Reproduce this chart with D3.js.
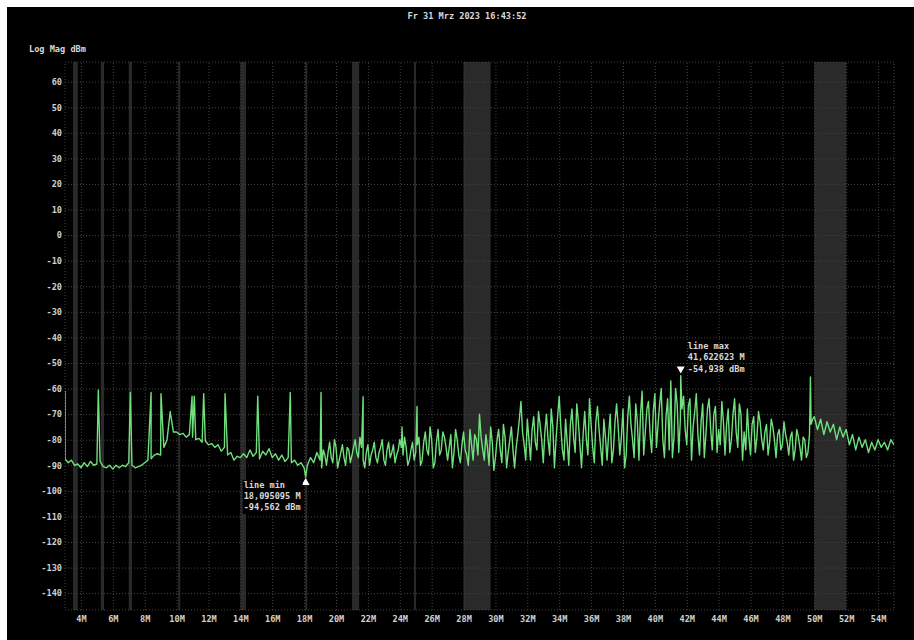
<!DOCTYPE html>
<html><head><meta charset="utf-8">
<script src="https://cdn.jsdelivr.net/npm/d3@7"></script>
<style>
html,body{margin:0;padding:0;background:#fff;}
svg{display:block;}
text{font-family:"DejaVu Sans Mono","Liberation Mono",monospace;}
</style></head>
<body><svg id="c" width="914" height="640"></svg>
<script>
// ---- data ----
const title = "Fr 31 Mrz 2023 16:43:52";
const yAxisTitle = "Log Mag dBm";
const startMHz = 3.0;
const stepMHz = 0.2;
// trace values in dBm, one per 0.2 MHz from 3.0 to 55.0 MHz (rows of 2 MHz)
const traceValues = [
  -87.5, -89, -88, -90, -89.5, -91, -89, -90.5, -88.5, -90,
  -89.5, -88.5, -90.5, -91, -90, -91.5, -90, -91, -90, -90.5,
  -89, -90, -91, -90.5, -90, -89, -88, -87.5, -86, -85.5,
  -86, -83, -80, -69, -77, -77, -78, -77.5, -79, -78,
  -79, -80, -79.5, -81, -80.5, -82, -81.5, -83, -82, -84.5,
  -83, -86, -85, -88, -86.5, -87, -85.5, -87, -84, -86.5,
  -85, -87.5, -84.5, -86, -83.5, -87, -85.5, -88, -86, -88.5,
  -87, -89, -88, -90, -89, -91, -90, -87, -89, -85,
  -88, -84, -90, -81, -89, -83, -88, -82, -90, -84,
  -86, -80, -87, -83, -91, -82, -86, -81, -89, -83,
  -88, -84, -87, -82, -86, -80, -86, -83, -88, -81,
  -85, -79, -88, -77, -86, -80, -89, -76, -84, -79,
  -88, -78, -85, -80, -89, -77, -86, -76, -88, -80,
  -70, -84, -78, -90, -81, -87, -76, -89, -79, -85,
  -75, -91, -78, -65, -82, -72, -88, -71, -84, -74,
  -89, -70, -86, -75, -80, -63, -84, -72, -90, -68,
  -85, -73, -91, -69, -86, -74, -89, -67, -83, -72,
  -88, -70, -84, -66, -86, -68, -86, -63, -80, -66,
  -88, -61, -77, -65, -85, -62, -74, -60, -87, -64,
  -57, -79, -66, -72, -63, -82, -64, -75, -62, -86,
  -66, -78, -64, -84, -67, -76, -65, -86, -68, -80,
  -64, -83, -70, -77, -68, -86, -71, -79, -73, -84,
  -74, -81, -75, -87, -76, -82, -78, -86, -77, -84,
  -79, -88, -80, -85, -74, -71, -76, -72, -78, -73,
  -77, -74, -80, -75, -79, -76, -82, -78, -84, -79,
  -83, -80, -85, -81, -84, -80, -83, -81, -84, -80,
  -82
];
// extra in-between samples of the noisy part, one per 0.2 MHz from 19.1 to 49.9 MHz
const midStartMHz = 19.1;
const midValues = [
  -91, -86, -85, -87, -80, -91, -85, -87, -83, -89,
  -83, -85, -79, -88, -85, -90, -84, -87, -85, -80,
  -90, -81, -85, -89, -84, -83, -79, -90, -84, -88,
  -82, -90, -81, -84, -75, -91, -81, -86, -77, -83,
  -83, -91, -76, -86, -82, -84, -90, -82, -78, -86,
  -79, -88, -83, -75, -92, -80, -84, -74, -91, -80,
  -84, -83, -72, -77, -88, -80, -76, -81, -69, -80,
  -77, -80, -68, -91, -71, -75, -88, -81, -74, -79,
  -66, -82, -78, -80, -64, -83, -73, -76, -90, -79,
  -78, -89, -73, -75, -79, -91, -71, -74, -87, -73,
  -70, -86, -68, -78, -69, -83, -66, -80, -71, -84,
  -87, -60, -85, -68, -76, -67, -88, -69, -78, -73,
  -87, -68, -76, -70, -85, -82, -73, -74, -85, -70,
  -77, -66, -88, -84, -79, -74, -85, -69, -80, -77,
  -86, -72, -80, -78, -84, -73, -81, -79, -88, -76,
  -83, -79, -87, -78, -72
];
// narrow carrier spikes (MHz, dBm)
const spikeFreqs  = [3.0, 5.09, 7.1, 8.4, 9.02, 10.97, 11.11, 11.7, 13.04, 15.09, 17.13, 18.095095, 19.06, 21.7, 24.14, 25.08, 41.622623, 49.76];
const spikeValues = [-61, -60.5, -61.5, -61.5, -62, -63, -63, -62, -62, -63, -61.5, -94.562, -61.5, -63.2, -75, -67, -54.938, -55.5];
// shaded ranges (MHz)
const bandStarts = [3.5, 5.25, 7.0, 10.1, 14.0, 18.068, 21.0, 24.89, 28.0, 50.0];
const bandEnds   = [3.8, 5.45, 7.2, 10.15, 14.35, 18.168, 21.45, 24.99, 29.7, 52.0];
const xTicks = [4,6,8,10,12,14,16,18,20,22,24,26,28,30,32,34,36,38,40,42,44,46,48,50,52,54];
const yTicks = [60,50,40,30,20,10,0,-10,-20,-30,-40,-50,-60,-70,-80,-90,-100,-110,-120,-130,-140];
const minMarker = {label:"line min", freq:"18,095095 M", val:"-94,562 dBm", f:18.095095, v:-94.562};
const maxMarker = {label:"line max", freq:"41,622623 M", val:"-54,938 dBm", f:41.622623, v:-54.938};

// ---- build ----
const svg = d3.select("#c");
const W = 914, H = 640;
const L = 65, R = 894, T = 62, B = 610;
svg.append("rect").attr("x",7).attr("y",7).attr("width",W-7).attr("height",H-7).attr("fill","#000");

const x = d3.scaleLinear().domain([3,55]).range([L,R]);
const y = d3.scaleLinear().domain([-146.6,67.7]).range([B,T]);

svg.append("defs").append("clipPath").attr("id","clip")
  .append("rect").attr("x",L).attr("y",T).attr("width",R-L).attr("height",B-T);

// bands
const bands = bandStarts.map((s,i)=>({s, e:bandEnds[i]}));
svg.append("g").selectAll("rect").data(bands).join("rect")
  .attr("x",d=>x(d.s)).attr("y",T)
  .attr("width",d=>Math.max(2, x(d.e)-x(d.s)))
  .attr("height",B-T).attr("fill","#2a2a2a");

// grid
const gridStyle = g => { g.select(".domain").remove(); g.selectAll("line").attr("stroke","#444").attr("stroke-dasharray","1,2").attr("stroke-width",1); };
svg.append("g").attr("transform",`translate(0,${B})`)
  .call(d3.axisBottom(x).tickValues(xTicks).tickSize(-(B-T)).tickFormat(""))
  .call(gridStyle);
svg.append("g").attr("transform",`translate(${L},0)`)
  .call(d3.axisLeft(y).tickValues(yTicks).tickSize(-(R-L)).tickFormat(""))
  .call(gridStyle);
svg.append("rect").attr("x",L).attr("y",T).attr("width",R-L).attr("height",B-T)
  .attr("fill","none").attr("stroke","#444").attr("stroke-dasharray","1,2");

// axes labels
const labStyle = g => { g.select(".domain").remove(); g.selectAll("line").remove();
  g.selectAll("text").attr("fill","#cfcfcf").attr("font-size","8.6px").attr("font-weight","bold")
   .attr("font-family","'DejaVu Sans Mono', monospace"); };
svg.append("g").attr("transform",`translate(${L},0)`)
  .call(d3.axisLeft(y).tickValues(yTicks).tickSize(0).tickPadding(3).tickFormat(d=>d))
  .call(labStyle);
svg.append("g").attr("transform",`translate(0,${B})`)
  .call(d3.axisBottom(x).tickValues(xTicks).tickSize(0).tickPadding(6).tickFormat(d=>d+"M"))
  .call(labStyle);

// trace
const base = traceValues.map((v,i)=>({f: +(startMHz + i*stepMHz).toFixed(3), v}));
const mids = midValues.map((v,i)=>({f: +(midStartMHz + i*stepMHz).toFixed(3), v}));
const spikes = spikeFreqs.map((f,i)=>({f, v:spikeValues[i]}));
const pts = spikes.concat(base, mids).sort((a,b)=>a.f-b.f);
svg.append("path").datum(pts).attr("clip-path","url(#clip)")
  .attr("fill","none").attr("stroke","#6fe07c").attr("stroke-width",1.4).attr("stroke-linejoin","round")
  .attr("d", d3.line().x(d=>x(d.f)).y(d=>y(d.v)));

// titles
const tStyle = s => s.attr("fill","#d8d8d8").attr("font-size","8.6px").attr("font-weight","bold");
svg.append("text").attr("x",467).attr("y",19).attr("text-anchor","middle").text(title).call(tStyle);
svg.append("text").attr("x",29).attr("y",52).text(yAxisTitle).call(tStyle);

// markers
function marker(m, up){
  const mx = x(m.f), my = y(m.v);
  const g = svg.append("g");
  const lines=[m.label,m.freq,m.val];
  if(up){
    g.append("path").attr("d",`M${mx},${my+1} L${mx-4},${my+8} L${mx+4},${my+8} Z`).attr("fill","#fff");
    g.append("rect").attr("x",mx-63).attr("y",my+3).attr("width",60).attr("height",34).attr("fill","#000");
    lines.forEach((t,i)=>g.append("text").attr("x",mx-62).attr("y",my+11+i*10.8).text(t).call(tStyle));
  } else {
    g.append("path").attr("d",`M${mx},${my-2} L${mx-4},${my-9} L${mx+4},${my-9} Z`).attr("fill","#fff");
    lines.forEach((t,i)=>g.append("text").attr("x",mx+7).attr("y",my-27+i*11.5).text(t).call(tStyle));
  }
}
marker(minMarker,true);
marker(maxMarker,false);
</script></body></html>
